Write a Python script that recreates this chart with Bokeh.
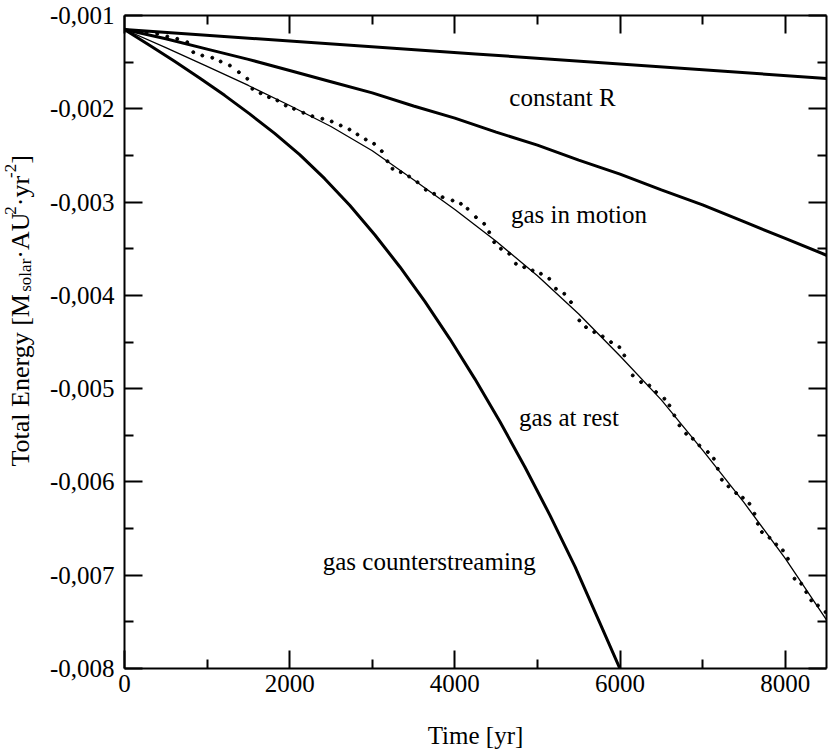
from bokeh.plotting import figure
from bokeh.layouts import row
from bokeh.models import Range1d, LinearAxis, FixedTicker, CustomJSTickFormatter, Label
from bokeh.core.properties import value
from bokeh.embed import file_html
from bokeh.resources import INLINE
import math

# ---------------- data ----------------
t_const = [0, 4250, 8500]
e_const = [-0.00115, -0.001412, -0.001675]

t_grid = [0, 500, 1000, 1500, 2000, 2500, 3000, 3500, 4000, 4500, 5000,
          5500, 6000, 6500, 7000, 7500, 8000, 8500]
e_motion = [-0.00115, -0.00125, -0.00136, -0.00147, -0.00159, -0.00171, -0.00183,
            -0.00197, -0.00210, -0.00225, -0.00239, -0.00255, -0.00270, -0.00287,
            -0.00303, -0.00321, -0.00339, -0.00357]
e_rest = [-0.00115, -0.001345, -0.001545, -0.00175, -0.001965, -0.00219, -0.00245,
          -0.00276, -0.00308, -0.00342, -0.00379, -0.00420, -0.00465, -0.00512,
          -0.00566, -0.00622, -0.00682, -0.00748]

t_counter = [0, 303, 606, 909, 1212, 1515, 1818, 2121, 2424, 2727, 3030, 3333, 3636,
             3939, 4242, 4545, 4848, 5152, 5455, 5758, 6061]
e_counter = [-0.00115, -0.001318, -0.001491, -0.001669, -0.001856, -0.002055, -0.002264,
             -0.002492, -0.002749, -0.003035, -0.00335, -0.003693, -0.004065, -0.004466,
             -0.004895, -0.005353, -0.00584, -0.006358, -0.006907, -0.007516, -0.008127]

t_dots = [0, 145, 267, 396, 518, 639, 760, 833, 942, 1063, 1164, 1276, 1385, 1487, 1548,
          1648, 1749, 1851, 1952, 2052, 2166, 2275, 2396, 2509, 2618, 2724, 2821, 2921,
          3022, 3115, 3184, 3245, 3345, 3446, 3548, 3648, 3749, 3851, 3972, 4073, 4154,
          4255, 4355, 4416, 4476, 4558, 4658, 4739, 4840, 4942, 5042, 5143, 5224, 5325,
          5406, 5507, 5588, 5688, 5790, 5891, 5992, 6052, 6154, 6255, 6355, 6436, 6537,
          6598, 6658, 6719, 6800, 6881, 6961, 7063, 7136, 7184, 7233, 7313, 7406, 7487,
          7567, 7628, 7669, 7718, 7810, 7891, 7972, 8033, 8113, 8194, 8255, 8315, 8396, 8488]
e_dots = [-0.00115, -0.001167, -0.001181, -0.001196, -0.001225, -0.00125, -0.001286,
          -0.001393, -0.001429, -0.001453, -0.001493, -0.001536, -0.001608, -0.001678,
          -0.001786, -0.001833, -0.001876, -0.001911, -0.001965, -0.002, -0.002043,
          -0.002079, -0.002107, -0.002136, -0.002179, -0.002222, -0.002275, -0.002329,
          -0.002375, -0.002454, -0.002562, -0.002643, -0.002679, -0.002726, -0.002787,
          -0.002868, -0.002911, -0.002947, -0.002983, -0.003018, -0.003072, -0.003162,
          -0.003233, -0.003323, -0.00343, -0.0035, -0.003554, -0.003661, -0.003698,
          -0.003733, -0.003768, -0.003822, -0.003929, -0.003983, -0.004073, -0.004269,
          -0.004341, -0.004394, -0.00444, -0.004502, -0.004555, -0.004644, -0.004858,
          -0.00493, -0.004966, -0.005037, -0.005108, -0.00518, -0.005287, -0.005394,
          -0.005483, -0.005537, -0.005609, -0.00568, -0.005751, -0.005859, -0.005976,
          -0.006048, -0.00612, -0.006169, -0.006234, -0.006341, -0.006448, -0.006538,
          -0.006598, -0.00667, -0.006734, -0.006823, -0.007037, -0.007091, -0.007181,
          -0.00727, -0.007324, -0.007395]

x_ticks = [0, 2000, 4000, 6000, 8000]
x_minor = [1000, 3000, 5000, 7000]
y_ticks = [-0.008, -0.007, -0.006, -0.005, -0.004, -0.003, -0.002, -0.001]
y_minor = [-0.0075, -0.0065, -0.0055, -0.0045, -0.0035, -0.0025, -0.0015]

curve_labels = ["constant R", "gas in motion", "gas at rest", "gas counterstreaming"]
x_title = "Time [yr]"
y_title_parts = ["Total Energy [M", "solar", "\u00b7AU", "2", "\u00b7yr", "-2", "]"]

# ---------------- layout constants ----------------
FONT = "Liberation Serif"
FS = "25px"
W = 829
H = 755
STRIP = 44
FRAME_L, FRAME_T, FRAME_B = 124, 15, 668

p = figure(width=W - STRIP, height=H, output_backend="svg", toolbar_location=None,
           x_range=Range1d(0, 8500), y_range=Range1d(-0.008, -0.001),
           min_border_left=FRAME_L - STRIP, min_border_right=3, min_border_top=FRAME_T,
           min_border_bottom=H - FRAME_B)
p.outline_line_color = None
p.xgrid.visible = False
p.ygrid.visible = False
p.background_fill_color = "white"
p.border_fill_color = "white"

xt = FixedTicker(ticks=x_ticks, minor_ticks=x_minor)
yt = FixedTicker(ticks=y_ticks, minor_ticks=y_minor)
yfmt = CustomJSTickFormatter(code="return tick.toFixed(3).replace('.', ',');")


def style(ax):
    ax.axis_line_width = 2
    ax.axis_line_color = "black"
    ax.major_tick_in = 18
    ax.major_tick_out = 0
    ax.minor_tick_in = 9
    ax.minor_tick_out = 0
    ax.major_tick_line_width = 2
    ax.minor_tick_line_width = 2
    ax.major_tick_line_color = "black"
    ax.minor_tick_line_color = "black"
    ax.major_label_text_font = FONT
    ax.major_label_text_font_size = FS
    ax.major_label_text_color = "black"


xa = p.xaxis[0]
xa.ticker = xt
style(xa)
xa.major_label_standoff = 6
xa.axis_label = x_title
xa.axis_label_text_font = FONT
xa.axis_label_text_font_size = FS
xa.axis_label_text_font_style = "normal"
xa.axis_label_text_color = "black"
xa.axis_label_standoff = 27

ya = p.yaxis[0]
ya.ticker = yt
ya.formatter = yfmt
style(ya)
ya.major_label_standoff = 10

top = LinearAxis(ticker=xt)
style(top)
top.major_label_text_font_size = "0px"
top.major_label_text_alpha = 0
top.major_label_standoff = 0
p.add_layout(top, "above")

right = LinearAxis(ticker=yt)
style(right)
right.major_label_text_font_size = "0px"
right.major_label_text_alpha = 0
right.major_label_standoff = 0
p.add_layout(right, "right")

# ---------------- curves ----------------
p.line(t_const, e_const, line_width=3, color="black")
p.line(t_grid, e_motion, line_width=3, color="black")
p.line(t_grid, e_rest, line_width=1.3, color="black")
p.line(t_counter, e_counter, line_width=3, color="black", line_join="round")
p.scatter(t_dots, e_dots, size=3, color="black", marker="circle")

# curve labels (data coordinates)
label_pos = [(4660, -0.001879), (4679, -0.003133), (4776, -0.005309), (2400, -0.006852)]
for txt, (lx, ly) in zip(curve_labels, label_pos):
    p.add_layout(Label(x=lx, y=ly, text=txt, text_font=FONT, text_font_size=FS,
                       text_color="black", text_baseline="alphabetic", text_align="left"))

# ---------------- left strip carrying the rotated y-axis title ----------------
lf = figure(width=STRIP, height=H, output_backend="svg", toolbar_location=None,
            x_range=Range1d(0, STRIP), y_range=Range1d(H - FRAME_B, H - FRAME_T),
            x_axis_type=None, y_axis_type=None,
            min_border_left=0, min_border_right=0, min_border_top=FRAME_T,
            min_border_bottom=H - FRAME_B)
lf.outline_line_color = None
lf.grid.visible = False
lf.background_fill_color = "white"
lf.border_fill_color = "white"

big, small = 26, 17
sizes = [big, small, big, small, big, small, big]
shifts = [0, 5, 0, -10, 0, -10, 0]                     # sub/superscript offsets (px)
em = [6.721, 1.944, 1.694, 0.5, 1.083, 0.833, 0.333]   # Times advance widths (em)
anchor_x = 20
yy = H - 466
for txt, fs, dx, w in zip(y_title_parts, sizes, shifts, em):
    lf.text(x=[anchor_x + dx], y=[yy], text=[txt], angle=math.pi / 2,
            text_font=value(FONT), text_font_size=value(f"{fs}px"), text_color="black",
            text_baseline="alphabetic", text_align="left")
    yy += w * fs

layout = row(lf, p)
open("out.html", "w").write(file_html(layout, INLINE))
